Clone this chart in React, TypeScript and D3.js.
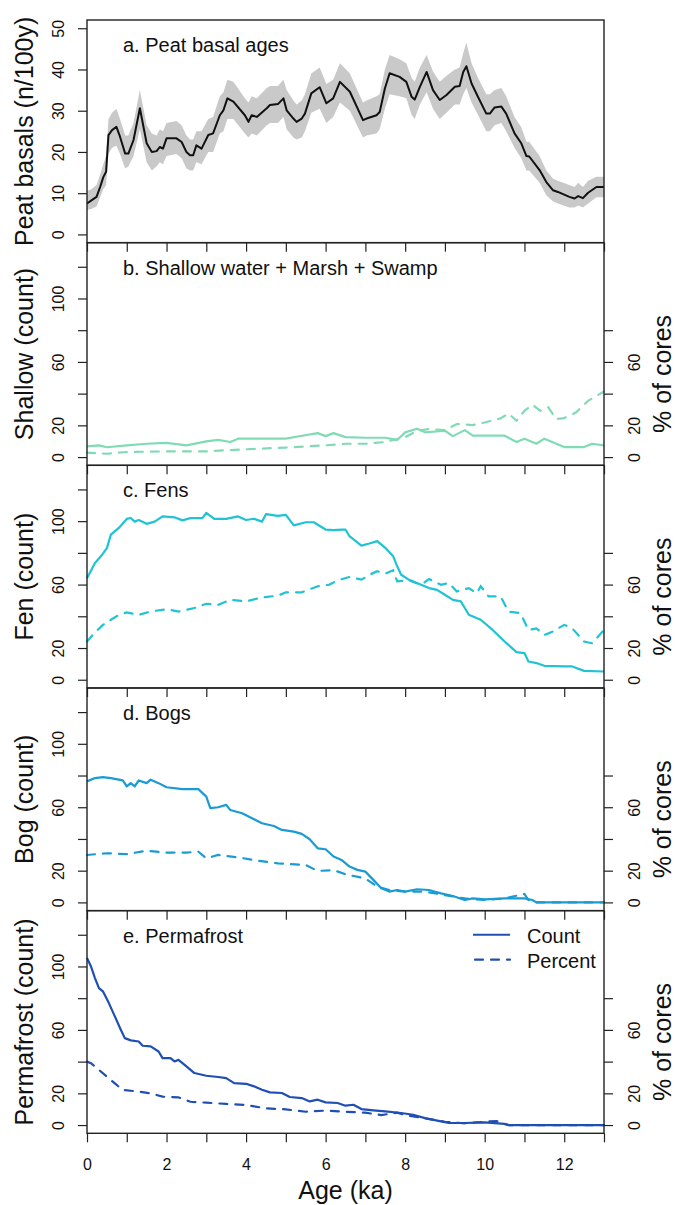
import React, { useEffect, useRef } from 'react';
import * as d3 from 'd3';

// a. peat basal ages (n/100y): mean and uncertainty band
const basalAge = [0, 0.12, 0.24, 0.33, 0.41, 0.48, 0.54, 0.63, 0.74, 0.83, 0.96, 1.04, 1.17, 1.33, 1.5, 1.63, 1.75, 1.83, 1.91, 2.0, 2.25, 2.38, 2.5, 2.59, 2.67, 2.75, 2.88, 3.05, 3.17, 3.34, 3.43, 3.53, 3.68, 3.97, 4.06, 4.14, 4.27, 4.52, 4.6, 4.8, 4.94, 5.02, 5.19, 5.27, 5.4, 5.48, 5.64, 5.85, 6.02, 6.19, 6.36, 6.61, 6.94, 7.03, 7.28, 7.36, 7.49, 7.61, 7.86, 8.03, 8.16, 8.24, 8.37, 8.54, 8.7, 8.87, 9.04, 9.25, 9.37, 9.46, 9.54, 9.67, 9.83, 10.04, 10.13, 10.25, 10.42, 10.54, 10.75, 10.92, 11.05, 11.12, 11.38, 11.55, 11.72, 11.84, 12.13, 12.26, 12.35, 12.47, 12.6, 12.81, 13];
const basalMean = [7.5, 8.3, 9.1, 11.5, 13.9, 15.2, 24.1, 25.3, 26.1, 23.7, 19.6, 19.6, 22.9, 30.6, 22.1, 20.0, 20.2, 21.2, 20.8, 23.3, 23.3, 22.4, 20.0, 19.2, 19.2, 21.6, 20.8, 24.1, 24.5, 28.9, 30.1, 33.0, 32.2, 28.9, 27.3, 28.9, 28.5, 30.6, 31.4, 31.6, 33.0, 30.1, 28.1, 27.3, 28.1, 29.3, 34.2, 35.7, 31.8, 33.0, 37.0, 34.6, 27.7, 28.1, 28.9, 29.7, 35.4, 39.1, 38.2, 37.0, 33.4, 32.7, 35.8, 39.4, 35.0, 32.6, 33.8, 35.8, 36.0, 39.4, 40.8, 36.6, 33.4, 29.3, 29.3, 30.8, 31.0, 29.3, 24.5, 22.1, 19.0, 18.9, 15.6, 12.7, 10.7, 10.3, 9.1, 8.7, 9.3, 8.8, 10.1, 11.5, 11.5];
const basalLow = [5.9, 6.2, 6.8, 9.0, 11.0, 12.0, 19.5, 21.0, 21.5, 19.5, 16.0, 16.5, 19.0, 25.5, 17.5, 15.5, 16.5, 17.5, 17.0, 19.0, 19.5, 18.5, 16.0, 15.5, 15.5, 17.5, 17.0, 20.0, 20.0, 24.5, 25.0, 28.0, 28.0, 24.5, 23.5, 24.5, 24.0, 26.5, 27.0, 27.0, 28.5, 25.5, 23.5, 23.0, 23.5, 25.0, 29.5, 30.5, 27.0, 28.5, 32.0, 30.0, 23.5, 24.0, 24.5, 25.5, 30.5, 34.0, 33.5, 33.0, 29.0, 28.0, 31.5, 34.5, 30.5, 28.0, 29.5, 31.5, 31.5, 34.0, 35.5, 32.0, 29.0, 25.0, 25.0, 26.5, 27.0, 25.0, 21.0, 18.5, 15.5, 15.5, 12.5, 9.5, 8.0, 7.5, 6.5, 6.5, 7.0, 6.5, 7.5, 9.0, 9.0];
const basalHigh = [10.5, 11.0, 12.0, 14.5, 17.0, 19.0, 28.0, 29.5, 30.5, 28.0, 24.0, 24.0, 27.0, 35.0, 26.5, 24.5, 24.0, 25.5, 25.0, 27.0, 27.5, 26.5, 24.0, 23.0, 23.0, 25.0, 25.0, 28.0, 28.5, 33.5, 34.5, 37.5, 37.0, 33.0, 32.0, 33.5, 33.0, 35.5, 36.0, 36.0, 37.5, 35.0, 32.5, 31.5, 32.5, 34.0, 39.0, 40.5, 36.5, 37.5, 41.5, 39.0, 32.0, 32.5, 33.5, 34.0, 40.0, 43.5, 42.5, 41.5, 38.0, 37.0, 40.5, 43.5, 39.5, 37.0, 38.5, 40.0, 40.5, 44.0, 46.5, 41.5, 38.0, 34.0, 34.0, 35.0, 35.5, 33.5, 28.5, 26.0, 22.5, 22.5, 19.0, 15.5, 13.5, 13.0, 12.0, 11.5, 12.5, 11.5, 13.0, 14.0, 14.0];

// b. shallow water + marsh + swamp
const shallowAge = [0, 0.3, 0.5, 1, 1.5, 2, 2.5, 3, 3.3, 3.6, 3.8, 4, 5, 5.3, 5.8, 6, 6.2, 6.5, 7, 7.5, 7.8, 8, 8.3, 8.5, 9, 9.2, 9.5, 9.7, 10, 10.5, 10.8, 11, 11.3, 11.5, 11.8, 12, 12.5, 12.7, 13];
const shallowCount = [6.8, 7.4, 6.2, 7.4, 8.4, 9, 7.4, 9.9, 10.8, 9.5, 11.6, 11.6, 11.6, 13, 15.1, 13.2, 15.1, 12.6, 12.2, 12.2, 10.8, 15.6, 17.9, 15.6, 16.6, 13.2, 17, 13.5, 13.5, 13.5, 9.5, 11.6, 8.4, 11.6, 8.4, 6.3, 6.3, 8.4, 7.4];
const shallowPctAge = [0, 0.5, 1, 2, 3, 3.5, 4, 5, 6, 6.5, 7, 7.5, 8, 8.3, 8.6, 9, 9.3, 9.7, 10, 10.4, 10.6, 10.8, 11, 11.2, 11.4, 11.6, 11.8, 12, 12.3, 12.6, 13];
const shallowPct = [2.8, 2.1, 3.2, 3.6, 3.6, 4.3, 4.9, 6, 7.4, 8.4, 8.4, 9.5, 12.6, 16.6, 17.7, 17, 20.8, 20.2, 21.8, 24.4, 27.5, 22.9, 29.2, 33, 29.2, 31.4, 24, 24.6, 28.2, 35.5, 41.3];

// c. fens
const fenAge = [0, 0.2, 0.35, 0.5, 0.6, 0.8, 1.0, 1.1, 1.2, 1.3, 1.5, 1.7, 1.9, 2.2, 2.4, 2.6, 2.9, 3.0, 3.2, 3.5, 3.8, 4.0, 4.2, 4.4, 4.5, 4.8, 5.0, 5.2, 5.5, 5.7, 6.0, 6.2, 6.4, 6.5, 6.6, 6.9, 7.1, 7.3, 7.5, 7.7, 7.8, 7.9, 8.1, 8.4, 8.6, 8.8, 9.0, 9.2, 9.4, 9.5, 9.6, 9.9, 10.2, 10.5, 10.8, 11, 11.1, 11.3, 11.5, 12, 12.2, 12.5, 13];
const fenCount = [64, 73.6, 77.8, 83, 91.5, 95.7, 101.4, 102, 99.7, 100.7, 98.3, 99.7, 103, 102.4, 100.5, 101.9, 101.9, 105.2, 101.4, 101.4, 103, 100.7, 101.5, 99.7, 104.4, 103.3, 104, 97.3, 99.3, 99.3, 94.7, 94.3, 94.7, 94.7, 90.5, 84.6, 85.9, 87.4, 83.2, 77.8, 71.5, 66.2, 63, 59.9, 57.8, 56.7, 53.6, 50.4, 49.4, 45.2, 41, 37.8, 31.4, 24.1, 17.4, 16.8, 11.5, 10.5, 8.8, 8.4, 8.4, 5.6, 5.2];
const fenPctAge = [0, 0.2, 0.4, 0.6, 0.8, 1.0, 1.3, 1.6, 2.0, 2.3, 2.7, 3.0, 3.3, 3.6, 4.0, 4.4, 4.8, 5.0, 5.4, 5.8, 6.1, 6.3, 6.6, 6.9, 7.1, 7.3, 7.5, 7.7, 7.8, 8.1, 8.4, 8.6, 8.9, 9.1, 9.3, 9.6, 9.8, 9.9, 10.1, 10.4, 10.6, 10.9, 11.1, 11.3, 11.5, 11.7, 12.0, 12.2, 12.5, 12.7, 13];
const fenPct = [24.1, 29.8, 34.6, 37.8, 40.9, 42.4, 40.9, 43, 44.5, 43, 45.2, 47.9, 47.2, 50.4, 49.4, 51.9, 53, 55.1, 55.1, 58.9, 60, 62.7, 64.8, 63.1, 66.2, 68.4, 66.9, 69, 62.1, 62.7, 59.9, 63.5, 59.9, 61, 55.7, 57.8, 54.6, 58.9, 52.5, 52.5, 43, 42, 31.4, 32.4, 28.2, 30.3, 34.6, 32.4, 24.1, 23, 31.4];

// d. bogs
const bogAge = [0, 0.2, 0.4, 0.6, 0.9, 1.0, 1.1, 1.2, 1.3, 1.5, 1.6, 1.8, 2.0, 2.4, 2.8, 3.0, 3.1, 3.3, 3.5, 3.6, 3.9, 4.1, 4.4, 4.7, 4.9, 5.2, 5.4, 5.6, 5.8, 6.0, 6.2, 6.4, 6.6, 6.8, 7.0, 7.2, 7.4, 7.6, 7.8, 8.0, 8.3, 8.6, 8.9, 9.2, 9.5, 9.7, 10, 10.5, 11, 11.2, 11.3, 13];
const bogCount = [76.3, 78.4, 79, 78.4, 76.9, 73.1, 75.2, 73.1, 76.9, 75.2, 77.4, 75.2, 72.6, 71.4, 71.4, 66.7, 59.4, 60, 61.5, 58.3, 56.2, 53.7, 49.9, 48.2, 45.7, 44.6, 43.2, 39.8, 34.1, 33.5, 28.9, 26.8, 22.6, 20.5, 19.4, 14.2, 8.9, 6.8, 7.8, 6.8, 8.3, 7.8, 5.7, 4, 1.5, 2.5, 1.9, 2.5, 2.5, 1.5, 0, 0];
const bogPctAge = [0, 0.5, 1, 1.5, 2, 2.5, 2.8, 3, 3.3, 3.8, 4.3, 4.8, 5.5, 5.8, 6.2, 6.5, 7, 7.3, 7.6, 8, 8.5, 9, 9.5, 10, 10.5, 10.8, 11, 11.1, 11.3, 13];
const bogPct = [29.9, 31, 30.4, 32.6, 31.4, 31.4, 32, 27.8, 29.9, 28.4, 26.3, 24.6, 23.6, 19.8, 20.4, 17.7, 15.1, 9.9, 7.8, 6.8, 6.8, 4.6, 2.5, 1.5, 2.5, 4.2, 5.3, 1.5, 0, 0];

// e. permafrost
const permaAge = [0, 0.1, 0.2, 0.3, 0.4, 0.55, 0.7, 0.85, 0.95, 1.1, 1.3, 1.4, 1.6, 1.8, 1.9, 2.1, 2.2, 2.3, 2.5, 2.7, 3.0, 3.3, 3.5, 3.7, 4.0, 4.2, 4.4, 4.6, 4.9, 5.1, 5.4, 5.6, 5.8, 6.0, 6.3, 6.5, 6.7, 6.9, 7.2, 7.5, 7.9, 8.2, 8.5, 8.9, 9.1, 9.5, 10, 10.5, 10.6, 13];
const permaCount = [105.4, 100, 92.7, 86.4, 84.3, 76.9, 68.5, 60.1, 54.8, 53.4, 52.7, 50, 49.6, 46.4, 42.2, 42.2, 40.1, 41.1, 37, 32.8, 31.1, 30.3, 29.6, 26.4, 26, 24.4, 22.3, 20.6, 20.2, 17.7, 17, 14.9, 16, 14.3, 13.9, 12.2, 12.8, 10.1, 9.3, 8.6, 7.6, 6.5, 4.4, 2.3, 1.3, 1.3, 1.7, 0.8, 0, 0];
const permaPctAge = [0, 0.1, 0.3, 0.5, 0.7, 0.9, 1.3, 1.6, 1.9, 2.3, 2.6, 3.0, 3.5, 4.0, 4.5, 5.0, 5.5, 6.0, 6.5, 7.0, 7.4, 7.8, 8.0, 8.5, 9.0, 9.5, 10, 10.3, 10.5, 10.6, 13];
const permaPct = [40, 39, 34.8, 30.5, 26.3, 22.1, 21.1, 20, 17.9, 17.5, 14.7, 14.1, 13.3, 12.6, 10.5, 9.9, 8.4, 9.1, 8.4, 7.8, 6.3, 7.8, 6.3, 4.2, 2.1, 1.1, 2.1, 2.5, 0.6, 0, 0];

const xTicks = [0, 1, 2, 3, 4, 5, 6, 7, 8, 9, 10, 11, 12, 13];
const xLabels = [0, 2, 4, 6, 8, 10, 12];
const basalTicks = [0, 10, 20, 30, 40, 50];
const countTicks = [0, 20, 40, 60, 80, 100, 120];
const countLabels = [0, 20, 60, 100];
const pctTicks = [0, 20, 40, 60, 80];
const pctLabels = [0, 20, 60];

const coverPanels = [
	{ title: 'b. Shallow water + Marsh + Swamp', ylab: 'Shallow (count)', color: '#80dbb5', age: shallowAge, count: shallowCount, pctAge: shallowPctAge, pct: shallowPct },
	{ title: 'c. Fens', ylab: 'Fen (count)', color: '#1fc3d3', age: fenAge, count: fenCount, pctAge: fenPctAge, pct: fenPct },
	{ title: 'd. Bogs', ylab: 'Bog (count)', color: '#1a9bd3', age: bogAge, count: bogCount, pctAge: bogPctAge, pct: bogPct },
	{ title: 'e. Permafrost', ylab: 'Permafrost (count)', color: '#1f4fb5', age: permaAge, count: permaCount, pctAge: permaPctAge, pct: permaPct },
];

const FONT = '"Liberation Sans", Arial, Helvetica, sans-serif';
const TICK_FS = 16;

export default function App() {
	const ref = useRef(null);

	useEffect(() => {
		const svg = d3.select(ref.current);
		svg.selectAll('*').remove();
		svg.attr('font-family', FONT);

		const left = 87, right = 604, top = 20, ph = 222.66;
		const x = d3.scaleLinear().domain([0, 13]).range([left, right]);

		const leftAxis = (g, y, ticks, labels) => {
			g.attr('transform', 'translate(' + left + ',0)')
				.call(d3.axisLeft(y).tickValues(ticks).tickSize(9).tickSizeOuter(0).tickFormat(d => labels.includes(d) ? d : ''))
				.attr('font-size', TICK_FS).attr('font-family', FONT);
			g.select('.domain').remove();
			g.selectAll('line').attr('stroke', '#222').attr('stroke-width', 1.2);
			g.selectAll('text').attr('x', null).attr('dy', null).attr('fill', '#111')
				.attr('text-anchor', 'middle').attr('transform', 'translate(-23,0) rotate(-90)');
		};
		const rightAxis = (g, y) => {
			g.attr('transform', 'translate(' + right + ',0)')
				.call(d3.axisRight(y).tickValues(pctTicks).tickSize(9).tickSizeOuter(0).tickFormat(d => pctLabels.includes(d) ? d : ''))
				.attr('font-size', TICK_FS).attr('font-family', FONT);
			g.select('.domain').remove();
			g.selectAll('line').attr('stroke', '#222').attr('stroke-width', 1.2);
			g.selectAll('text').attr('x', null).attr('dy', null).attr('fill', '#111')
				.attr('text-anchor', 'middle').attr('transform', 'translate(36,0) rotate(-90)');
		};
		const bottomAxis = (g, y0, showLabels) => {
			g.attr('transform', 'translate(0,' + y0 + ')')
				.call(d3.axisBottom(x).tickValues(xTicks).tickSize(9).tickSizeOuter(0).tickFormat(d => showLabels && xLabels.includes(d) ? d : ''))
				.attr('font-size', TICK_FS).attr('font-family', FONT);
			g.select('.domain').remove();
			g.selectAll('line').attr('stroke', '#222').attr('stroke-width', 1.2);
			g.selectAll('text').attr('y', 37).attr('dy', null).attr('fill', '#111');
		};
		const box = (t) => svg.append('rect').attr('x', left).attr('y', t).attr('width', right - left).attr('height', ph)
			.attr('fill', 'none').attr('stroke', '#222').attr('stroke-width', 1.4);
		const ytitle = (txt, cy) => svg.append('text').attr('transform', 'translate(33,' + cy + ') rotate(-90)')
			.attr('text-anchor', 'middle').attr('font-size', 25).attr('fill', '#111').text(txt);

		// a. peat basal ages
		const ya = d3.scaleLinear().domain([-2, 52]).range([top + ph, top]);
		const bandData = basalAge.map((a, i) => ({ a, lo: basalLow[i], hi: basalHigh[i] }));
		svg.append('path').datum(bandData).attr('fill', '#c9c9c9')
			.attr('d', d3.area().x(d => x(d.a)).y0(d => ya(d.lo)).y1(d => ya(d.hi)));
		svg.append('path').datum(basalAge.map((a, i) => [a, basalMean[i]])).attr('fill', 'none')
			.attr('stroke', '#111').attr('stroke-width', 2).attr('stroke-linejoin', 'round')
			.attr('d', d3.line().x(d => x(d[0])).y(d => ya(d[1])));
		box(top);
		svg.append('g').call(g => leftAxis(g, ya, basalTicks, basalTicks));
		svg.append('g').call(g => bottomAxis(g, top + ph, false));
		svg.append('text').attr('x', 123).attr('y', top + 32).attr('font-size', 20).attr('fill', '#111').text('a. Peat basal ages');
		ytitle('Peat basals (n/100y)', top + ph / 2);

		// b-e. counts and percent of cores
		coverPanels.forEach((p, k) => {
			const t = top + ph * (k + 1);
			const y = d3.scaleLinear().domain([-5.2, 135.2]).range([t + ph, t]);
			const line = d3.line().x(d => x(d[0])).y(d => y(d[1]));
			svg.append('path').datum(p.pctAge.map((a, i) => [a, p.pct[i]])).attr('fill', 'none')
				.attr('stroke', p.color).attr('stroke-width', 2.2).attr('stroke-dasharray', '8,8')
				.attr('stroke-linecap', 'round').attr('d', line);
			svg.append('path').datum(p.age.map((a, i) => [a, p.count[i]])).attr('fill', 'none')
				.attr('stroke', p.color).attr('stroke-width', 2.2).attr('stroke-linejoin', 'round').attr('d', line);
			box(t);
			svg.append('g').call(g => leftAxis(g, y, countTicks, countLabels));
			svg.append('g').call(g => rightAxis(g, y));
			svg.append('g').call(g => bottomAxis(g, t + ph, k === 3));
			svg.append('text').attr('x', 123).attr('y', t + 32).attr('font-size', 20).attr('fill', '#111').text(p.title);
			ytitle(p.ylab, t + ph / 2);
			svg.append('text').attr('transform', 'translate(671,' + (t + ph / 2 + 20) + ') rotate(-90)')
				.attr('text-anchor', 'middle').attr('font-size', 25).attr('fill', '#111').text('% of cores');

			if (k === 3) {
				const lg = svg.append('g');
				lg.append('line').attr('x1', 473).attr('x2', 510).attr('y1', t + 24).attr('y2', t + 24)
					.attr('stroke', p.color).attr('stroke-width', 2);
				lg.append('line').attr('x1', 475).attr('x2', 510).attr('y1', t + 49).attr('y2', t + 49)
					.attr('stroke', p.color).attr('stroke-width', 2.2).attr('stroke-dasharray', '8,8').attr('stroke-linecap', 'round');
				lg.append('text').attr('x', 527).attr('y', t + 32).attr('font-size', 20).attr('fill', '#111').text('Count');
				lg.append('text').attr('x', 527).attr('y', t + 57).attr('font-size', 20).attr('fill', '#111').text('Percent');
			}
		});

		svg.append('text').attr('x', (left + right) / 2).attr('y', 1199).attr('text-anchor', 'middle')
			.attr('font-size', 25).attr('fill', '#111').text('Age (ka)');
	}, []);

	return (
		<svg ref={ref} width={675} height={1205} style={{ position: 'absolute', left: 0, top: 0, background: '#fff' }} />
	);
}
